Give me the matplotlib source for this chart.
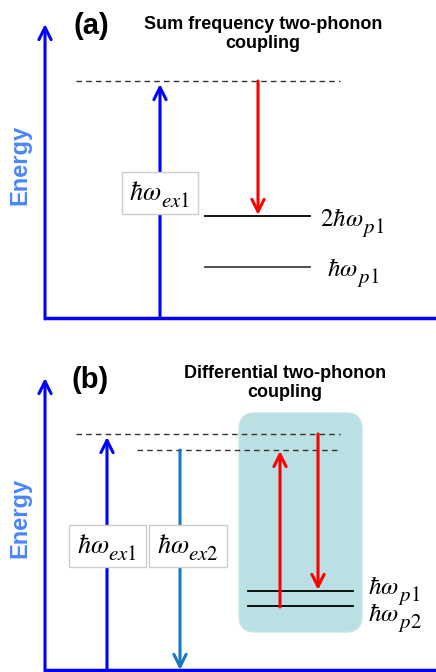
import matplotlib.pyplot as plt
from matplotlib.patches import FancyArrowPatch, FancyBboxPatch, Rectangle

plt.rcParams['font.family'] = ['Liberation Sans', 'DejaVu Sans']
plt.rcParams['mathtext.fontset'] = 'stix'

# Diagram geometry, in image pixels (x right, y down)
# panel axes: (x0, y_bottom, y_top, x_end)
axes_frames = [(45, 318, 24, 436), (45, 670, 378, 436)]
energy_label_y = [165, 518]
panel_tags = ['(a)', '(b)']
tag_pos = [(91, 26), (90, 380)]
titles = ['Sum frequency two-phonon\ncoupling', 'Differential two-phonon\ncoupling']
title_pos = [(263, 34), (285, 383)]

# dashed virtual levels: (x_start, x_end, y)
virtual_levels = [(76, 340, 81), (76, 340, 434), (137, 339, 450)]
# phonon levels: (x_start, x_end, y, color)
phonon_levels = [(205, 310, 216, 'black'), (205, 310, 267, '#404040'),
                 (248, 353, 591, 'black'), (248, 353, 606, 'black')]
# level labels: (main, subscript, x_left, baseline)
level_labels = [(r'$2\hbar\omega$', r'$p1$', 320, 226),
                (r'$\hbar\omega$', r'$p1$', 327, 276),
                (r'$\hbar\omega$', r'$p1$', 368, 594),
                (r'$\hbar\omega$', r'$p2$', 368, 621)]

# transitions: (x, y_from, y_to, color)
transitions = [(160, 318, 84, '#0000ff'), (258, 81, 215, '#ff0000'),
               (107, 670, 437, '#0000ff'), (180, 450, 670, '#1a78c2'),
               (280, 607, 451, '#ff0000'), (318, 434, 590, '#ff0000')]

# excitation labels in boxes: (x0, x1, y0, y1)
ex_boxes = [(122, 198, 172, 214), (69, 146, 525, 567), (149, 227, 525, 567)]
ex_subs = [r'$ex1$', r'$ex1$', r'$ex2$']

# shaded region in panel (b): (x0, x1, y0, y1)
shade_box = (239, 362, 413, 632)

fig = plt.figure(figsize=(4.36, 6.72), dpi=100)
ax = fig.add_axes([0, 0, 1, 1])
ax.set_xlim(0, 436)
ax.set_ylim(672, 0)
ax.axis('off')
renderer = fig.canvas.get_renderer()


def text_width(s, size):
    t = ax.text(0, 0, s, fontsize=size)
    w = t.get_window_extent(renderer).width
    t.remove()
    return w


def hlabel(x, y, main, sub, size=19, sub_size=15, drop=7, center=False, z=4):
    wm = text_width(main, size)
    ws = text_width(sub, sub_size)
    if center:
        x = x - (wm + ws) / 2
    ax.text(x, y, main, fontsize=size, ha='left', va='baseline', zorder=z)
    ax.text(x + wm - 1, y + drop, sub, fontsize=sub_size, ha='left',
            va='baseline', zorder=z)


x0, x1, y0, y1 = shade_box
ax.add_patch(FancyBboxPatch((x0 + 16, y0 + 16), x1 - x0 - 32, y1 - y0 - 32,
                            boxstyle='round,pad=16', fc='#bbe0e4', ec='#c8e4e8',
                            lw=1, zorder=0))

for (x, yb, yt, xe), ey in zip(axes_frames, energy_label_y):
    ax.plot([x, xe], [yb, yb], color='#0000ff', lw=2.5, solid_capstyle='butt')
    ax.add_patch(FancyArrowPatch((x, yb + 1), (x, yt), arrowstyle='->',
                                 mutation_scale=22, lw=2.2, color='#0000ff',
                                 shrinkA=0, shrinkB=0))
    ax.text(20, ey, 'Energy', rotation=90, ha='center', va='center',
            fontsize=17, fontweight='bold', color='#4a86ff')

for tag, (tx, ty) in zip(panel_tags, tag_pos):
    ax.text(tx, ty, tag, ha='center', va='center', fontsize=21, fontweight='bold')

for t, (tx, ty) in zip(titles, title_pos):
    ax.text(tx, ty, t, ha='center', va='center', fontsize=13, fontweight='bold',
            linespacing=1.2)

for xs, xe, y in virtual_levels:
    ax.plot([xs, xe], [y, y], color='#333333', lw=1, ls=(0, (4, 3)))

for xs, xe, y, c in phonon_levels:
    ax.plot([xs, xe], [y, y], color=c, lw=1.3)

for main, sub, lx, ly in level_labels:
    hlabel(lx, ly, main, sub, size=18, sub_size=15, drop=7)

for x, ya, yb, c in transitions:
    ax.add_patch(FancyArrowPatch((x, ya), (x, yb), arrowstyle='->',
                                 mutation_scale=22, lw=2.2, color=c,
                                 shrinkA=0, shrinkB=0, zorder=2))

for (bx0, bx1, by0, by1), sub in zip(ex_boxes, ex_subs):
    ax.add_patch(Rectangle((bx0, by0), bx1 - bx0, by1 - by0, fc='white',
                           ec='#cccccc', lw=1, zorder=3))
    hlabel((bx0 + bx1) / 2, by0 + 28, r'$\hbar\omega$', sub, size=19,
           sub_size=15, drop=7, center=True)

fig.savefig('out.png', dpi=100)
